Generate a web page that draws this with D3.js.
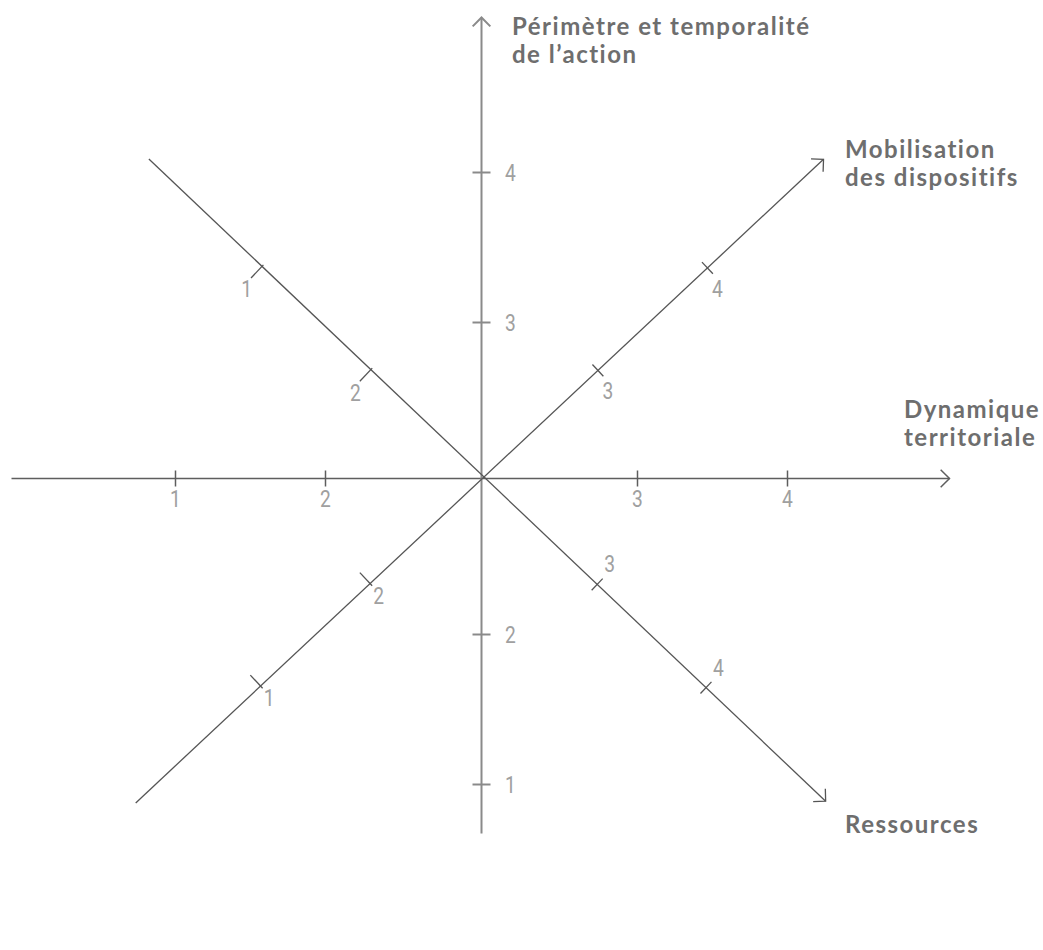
<!DOCTYPE html>
<html><head><meta charset="utf-8">
<script src="https://cdn.jsdelivr.net/npm/d3@7"></script>
<style>body{margin:0;background:#fff} svg{display:block}</style>
</head><body>
<script>
// ---- data ----
const axisTitles = [["Dynamique", "territoriale"], ["Périmètre et temporalité", "de l’action"], ["Mobilisation", "des dispositifs"], ["Ressources"]];
const axisAngles = [0, 90, 43.1, -43.5];          // degrees, counter-clockwise from east (arrow direction)
const tickValues = [1, 2, 3, 4];
const tickLabels = ["1", "2", "3", "4"];

// ---- layout / style ----
const W = 1043, H = 950;
const centers = [[481.5, 478.5], [481.5, 478.5], [484, 477], [484, 477]];
const extents = [[-470, 468], [-355, 461], [-477, 465], [-462, 471]];
const tickExtNeg = [[-8, 8], [-9, 9], [-15, 3], [-2, 16]];
const tickExtPos = [[-8, 8], [-9, 9], [-8, 8], [-8, 8]];
const labelOffNeg = [[0, 28.5], [29, 8], [8.5, 20], [-15.5, 31]];
const labelOffPos = [[0, 28.5], [29, 8], [10, 29], [12.5, -12]];
const strokeCol = ["#5e5e5e", "#8a8a8a", "#555555", "#555555"];
const strokeW = [1.5, 2, 1.3, 1.3];
const titlePos = [[904, 418], [512, 35], [845, 158], [845, 833]];
const titleLine = 27.5;

const pos = d3.scaleLinear().domain(tickValues).range([-306, -156, 156, 306]);

const svg = d3.select("body").append("svg").attr("width", W).attr("height", H);

axisAngles.forEach((ang, i) => {
  const r = ang * Math.PI / 180;
  const u = [Math.cos(r), -Math.sin(r)];
  const n = [-u[1], u[0]];
  const c = centers[i];
  const P = (d, k = 0) => [c[0] + d * u[0] + k * n[0], c[1] + d * u[1] + k * n[1]];
  const g = svg.append("g");
  const line = d3.line();
  const a = P(extents[i][0]), b = P(extents[i][1]);
  g.append("path").attr("d", line([a, b]))
    .attr("stroke", strokeCol[i]).attr("stroke-width", strokeW[i]).attr("fill", "none");
  // arrow head (open chevron)
  const L = 12.5, back = [-u[0], -u[1]];
  const rot = (v, t) => [v[0] * Math.cos(t) - v[1] * Math.sin(t), v[0] * Math.sin(t) + v[1] * Math.cos(t)];
  const l1 = rot(back, Math.PI / 4), l2 = rot(back, -Math.PI / 4);
  g.append("path").attr("d", line([[b[0] + L * l1[0], b[1] + L * l1[1]], b, [b[0] + L * l2[0], b[1] + L * l2[1]]]))
    .attr("stroke", strokeCol[i]).attr("stroke-width", strokeW[i]).attr("fill", "none");
  // ticks
  tickValues.forEach((v, j) => {
    const d = pos(v);
    const ext = d < 0 ? tickExtNeg[i] : tickExtPos[i];
    g.append("path").attr("d", line([P(d, ext[0]), P(d, ext[1])]))
      .attr("stroke", strokeCol[i]).attr("stroke-width", strokeW[i]).attr("fill", "none");
    const p = P(d);
    const off = d < 0 ? labelOffNeg[i] : labelOffPos[i];
    const lx = p[0] + off[0], ly = p[1] + off[1];
    g.append("text").attr("x", 0).attr("y", 0)
      .attr("transform", `translate(${lx},${ly}) scale(0.8,1)`)
      .attr("text-anchor", "middle")
      .attr("font-family", "Roboto, 'Liberation Sans', sans-serif")
      .attr("font-size", 24).attr("fill", "#a0a0a0").text(tickLabels[j]);
  });
  // title (one text per line)
  axisTitles[i].forEach((s, k) => {
    g.append("text").attr("x", titlePos[i][0]).attr("y", titlePos[i][1] + k * titleLine)
      .attr("font-family", "Lato, 'Open Sans', sans-serif").attr("font-weight", 700)
      .attr("font-size", 24).attr("letter-spacing", 1.5).attr("fill", "#6e6e6e").text(s);
  });
});
</script>
</body></html>
